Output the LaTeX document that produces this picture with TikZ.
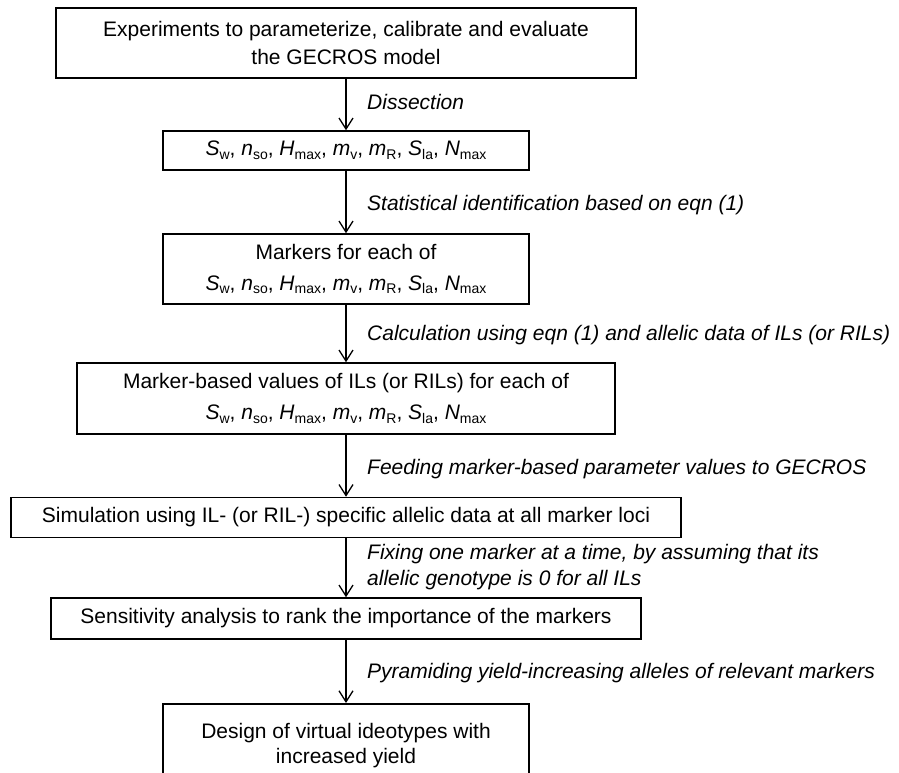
\documentclass[tikz,border=0pt]{standalone}
\usepackage{fontspec}
\setmainfont{Liberation Sans}
\usetikzlibrary{arrows.meta}
\newcommand\vsub[2]{\textit{#1}\raisebox{-0.35ex}{\fontsize{14}{14}\selectfont #2}}
\newcommand\paramlist{\vsub{S}{w}, \vsub{n}{so}, \vsub{H}{max}, \vsub{m}{v}, \vsub{m}{R}, \vsub{S}{la}, \vsub{N}{max}}
\begin{document}
\begin{tikzpicture}[x=1pt,y=-1pt,
  box/.style={draw, line width=1.5pt, align=center, inner sep=0pt, font=\fontsize{21}{28}\selectfont},
  parbox/.style={box, font=\fontsize{21}{31}\selectfont},
  lbl/.style={inner sep=0pt, font=\fontsize{21}{26}\selectfont\itshape, align=left},
  arr/.style={-{Straight Barb[length=11pt,width=14pt]}, line width=1.3pt}]
\useasboundingbox (0,0) rectangle (899,773);
\node[box, minimum width=580, minimum height=70] (b1) at (346,43) {Experiments to parameterize, calibrate and evaluate\\the GECROS model};
\node[box, minimum width=366, minimum height=39] (b2) at (346,150.5) {\paramlist};
\node[parbox, minimum width=366, minimum height=70] (b3) at (346,269) {Markers for each of\\\paramlist};
\node[parbox, minimum width=538, minimum height=71] (b4) at (346,398.5) {Marker-based values of ILs (or RILs) for each of\\\paramlist};
\node[box, minimum width=670, minimum height=40] (b5) at (346,517.5) {Simulation using IL- (or RIL-) specific allelic data at all marker loci};
\node[box, minimum width=590, minimum height=41] (b6) at (346,618.5) {Sensitivity analysis to rank the importance of the markers};
\node[box, font=\fontsize{21}{25}\selectfont, minimum width=366, minimum height=84, anchor=north] (b7) at (346,703) {Design of virtual ideotypes with\\increased yield};
\draw[arr] (b1.south) -- (b2.north);
\draw[arr] (b2.south) -- (b3.north);
\draw[arr] (b3.south) -- (b4.north);
\draw[arr] (b4.south) -- (b5.north);
\draw[arr] (b5.south) -- (b6.north);
\draw[arr] (b6.south) -- (b7.north);
\node[lbl, anchor=base west] (l1) at (367,110) {Dissection};
\node[lbl, anchor=base west] (l2) at (367,210) {Statistical identification based on eqn (1)};
\node[lbl, anchor=base west] (l3) at (367,340) {Calculation using eqn (1) and allelic data of ILs (or RILs)};
\node[lbl, anchor=base west] (l4) at (367,474) {Feeding marker-based parameter values to GECROS};
\node[lbl, anchor=north west] (l5) at (367,544) {Fixing one marker at a time, by assuming that its\\allelic genotype is 0 for all ILs};
\node[lbl, anchor=base west] (l6) at (367,678) {Pyramiding yield-increasing alleles of relevant markers};
\end{tikzpicture}
\end{document}
